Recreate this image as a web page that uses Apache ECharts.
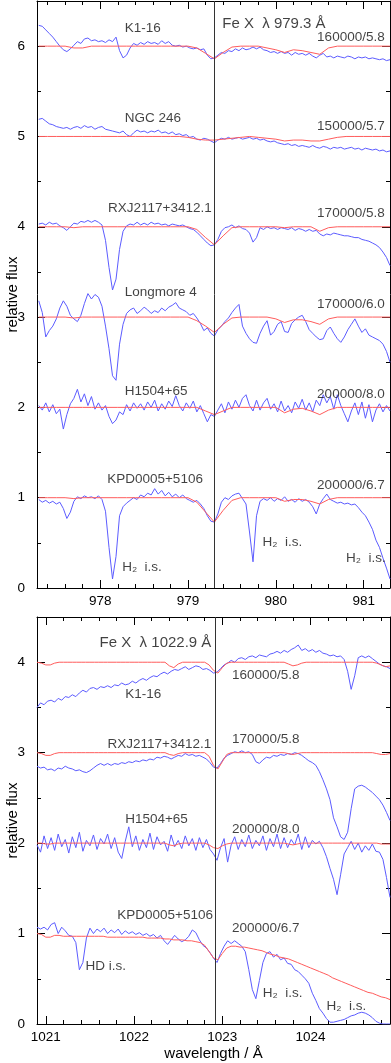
<!DOCTYPE html>
<html>
<head>
<meta charset="utf-8">
<title>Fe X 979.3 / 1022.9</title>
<script src="https://cdn.jsdelivr.net/npm/echarts@6.0.0/dist/echarts.min.js"></script>
<style>
  html, body { margin: 0; padding: 0; background: #fff; }
  #chart { width: 391px; height: 1063px; }
</style>
</head>
<body>
<div id="chart"></div>
<script>
// wavelength sampling of the arrays below (Angstrom)
const OBS_STEP = 0.04;
const TOP_OBS_START = 977.3, BOT_OBS_START = 1020.9;
const TOP_MOD_START = 977.3, TOP_MOD_STEP = 0.1;
const BOT_MOD_START = 1020.9, BOT_MOD_STEP = 0.05;

// ticks
const TOP_X_MAJOR = [978, 979, 980, 981];
const TOP_X_MINOR = [977.4, 977.6, 977.8, 978.2, 978.4, 978.6, 978.8, 979.2, 979.4, 979.6, 979.8, 980.2, 980.4, 980.6, 980.8, 981.2];
const BOT_X_MAJOR = [1021, 1022, 1023, 1024];
const BOT_X_MINOR = [1021.2, 1021.4, 1021.6, 1021.8, 1022.2, 1022.4, 1022.6, 1022.8, 1023.2, 1023.4, 1023.6, 1023.8, 1024.2, 1024.4, 1024.6, 1024.8];
const TOP_Y_MAJOR = [0, 1, 2, 3, 4, 5, 6];
const TOP_Y_MINOR = [0.5, 1.5, 2.5, 3.5, 4.5, 5.5];
const BOT_Y_MAJOR = [0, 1, 2, 3, 4];
const BOT_Y_MINOR = [0.5, 1.5, 2.5, 3.5];

// Fe X line positions
const TOP_LINE = 979.3;
const BOT_LINE = 1022.92;

// ---- upper panel, observed (blue), normalised + offset ----
const topK116Obs = [6.23,6.22,6.18,6.14,6.10,6.05,6.00,5.96,5.94,5.97,
  6.01,6.05,6.03,6.08,6.09,6.06,6.07,6.05,6.06,6.04,
  6.07,6.05,6.10,5.95,5.87,5.90,5.98,6.03,6.01,6.04,
  6.02,6.05,6.03,6.04,6.02,6.06,6.03,6.05,6.01,6.00,
  6.01,5.99,6.00,5.98,5.97,5.98,5.96,5.97,5.90,5.86,
  5.87,5.90,5.93,5.92,5.95,5.94,5.97,5.95,5.98,5.96,
  5.97,5.99,5.97,5.99,5.96,5.95,5.93,5.94,5.92,5.94,
  5.92,5.93,5.90,5.93,5.91,5.92,5.90,5.92,5.89,5.87,
  5.90,5.92,5.88,5.89,5.87,5.89,5.88,5.87,5.89,5.88,
  5.86,5.88,5.87,5.88,5.86,5.87,5.86,5.85,5.86,5.84,
  5.85];
const topNgc246Obs = [5.19,5.20,5.17,5.14,5.13,5.11,5.10,5.09,5.10,5.08,
  5.10,5.11,5.09,5.12,5.10,5.11,5.08,5.10,5.11,5.08,
  5.07,5.06,5.05,5.04,5.06,5.02,5.00,5.04,5.07,5.05,
  5.06,5.04,5.06,5.05,5.07,5.04,5.05,5.03,5.05,5.02,
  5.03,5.01,5.02,4.99,5.00,4.97,4.96,4.98,4.97,4.95,
  4.93,4.96,4.98,4.97,4.99,4.97,4.98,4.99,4.97,4.98,
  4.99,4.97,4.98,4.96,4.97,4.95,4.94,4.95,4.93,4.92,
  4.91,4.92,4.90,4.91,4.89,4.90,4.89,4.88,4.90,4.88,
  4.87,4.89,4.88,4.86,4.88,4.87,4.88,4.86,4.87,4.88,
  4.86,4.87,4.85,4.87,4.86,4.85,4.86,4.84,4.85,4.83,
  4.84];
const topRxjObs = [4.03,4.04,4.02,4.05,4.03,4.04,4.01,3.99,3.96,4.00,
  4.04,4.03,4.06,4.05,4.07,4.05,4.07,4.05,4.02,3.85,
  3.55,3.30,3.42,3.75,3.95,4.01,4.03,4.02,4.05,4.02,
  4.04,4.02,4.05,4.03,4.04,4.02,4.03,4.01,4.03,4.02,
  4.01,4.02,4.00,3.98,3.97,3.94,3.90,3.86,3.82,3.79,
  3.80,3.86,3.95,3.99,4.00,4.02,3.99,4.01,3.98,3.97,
  3.93,3.83,3.88,3.99,3.97,4.00,3.98,3.99,3.97,3.99,
  3.98,3.97,3.99,3.96,3.98,3.97,3.95,3.97,3.95,3.96,
  3.92,3.90,3.92,3.91,3.93,3.92,3.91,3.90,3.90,3.89,
  3.88,3.88,3.86,3.85,3.84,3.82,3.80,3.77,3.72,3.66,
  3.57];
const topLm4Obs = [3.18,3.05,2.78,2.85,2.90,2.98,3.10,3.18,3.12,3.02,
  2.98,2.95,3.02,3.15,3.26,3.20,3.25,3.22,3.12,2.90,
  2.65,2.35,2.30,2.70,2.92,3.04,3.08,3.10,3.04,3.07,
  3.11,3.08,3.04,3.07,3.05,3.10,3.07,3.11,3.13,3.16,
  3.10,3.08,3.06,3.02,3.04,2.99,2.93,2.85,2.88,2.82,
  2.79,2.86,2.90,2.95,2.99,3.05,3.10,3.14,2.90,2.82,
  2.76,2.72,2.71,2.82,2.90,2.96,2.80,2.84,2.92,2.95,
  2.84,2.83,2.93,2.97,3.00,3.02,2.95,2.86,2.82,2.78,
  2.75,2.76,2.85,2.89,2.82,2.76,2.72,2.78,2.86,2.92,
  2.98,2.90,2.83,2.87,2.80,2.78,2.76,2.74,2.70,2.62,
  2.50];
const topH1504Obs = [2.02,1.97,2.05,1.95,2.03,1.93,1.98,1.76,1.92,2.04,
  2.10,2.20,2.06,2.15,2.02,2.12,1.98,2.05,1.97,2.02,
  1.90,1.82,1.86,1.95,1.92,2.03,1.96,2.05,1.99,2.04,
  1.97,2.06,2.00,2.08,1.96,2.04,1.98,2.07,2.01,2.13,
  2.02,1.96,2.05,1.99,2.07,1.95,2.02,1.93,1.84,1.92,
  1.90,1.97,2.04,1.94,2.06,1.98,2.08,2.00,2.10,2.14,
  2.02,1.96,2.08,1.97,2.05,2.10,1.98,2.04,1.95,2.07,
  1.96,2.02,1.94,2.06,1.99,2.09,1.97,2.05,1.95,2.08,
  2.02,2.14,2.05,2.12,1.98,2.14,2.02,1.93,1.84,1.96,
  2.05,1.92,2.06,1.88,2.03,1.84,1.97,2.04,1.95,2.02,
  1.96];
const topKpdObs = [0.98,0.95,0.97,0.94,0.96,0.93,0.95,0.88,0.77,0.84,
  0.96,1.01,0.99,1.02,1.00,1.01,0.99,1.02,0.98,0.85,
  0.45,0.10,0.35,0.80,0.90,0.94,0.97,1.00,0.98,1.03,
  1.01,1.05,1.03,1.10,1.04,1.08,1.02,1.06,1.01,1.04,
  1.00,1.03,0.99,0.97,0.95,0.97,0.93,0.88,0.80,0.74,
  0.73,0.82,0.95,1.00,0.98,1.02,1.04,1.05,0.99,0.93,
  0.62,0.29,0.80,0.96,0.99,0.97,1.00,0.96,0.99,0.97,
  1.01,0.96,0.98,0.95,0.99,0.96,0.98,0.95,0.90,0.82,
  0.93,0.99,1.04,0.98,0.96,0.94,0.95,0.93,0.94,0.92,
  0.93,0.89,0.84,0.80,0.73,0.65,0.53,0.45,0.33,0.22,
  0.10];

// ---- upper panel, models (red) ----
const topK116Mod = [6,6,6,6,5.98,5.98,6,6,6,6,6,6,6,6,6,6,6,6,5.98,5.92,5.86,5.93,5.99,6,6,6,5.98,5.96,5.93,5.96,5.95,5.93,5.91,5.98,6,6,6,6,6,6,6];
const topNgc246Mod = [5,5,5,5,5,5,5,5,5,5,5,5,5,5,5,5,5,4.99,4.97,4.96,4.96,4.97,4.98,4.99,5,4.99,4.98,4.97,4.95,4.96,4.96,4.95,4.95,4.97,4.99,5,5,5,5,5,5];
const topRxjMod = [4,4,4,4,3.99,4,4,4,4,4,4,4,4,4,4,4,4,4,3.97,3.88,3.80,3.90,3.99,4,4,4,4,4,3.99,4,4,4,3.95,3.99,4,4,4,4,4,4,4];
const topLm4Mod = [3,3,3,3,2.99,3,3,3,3,3,3,3,3,3,3,3,3,3,2.96,2.90,2.83,2.92,2.99,3,3,3,3,2.98,2.94,2.97,2.97,2.95,2.92,2.98,3,3,3,3,3,3,3];
const topH1504Mod = [2,2,2,2,2,2,2,2,2,2,2,2,2,2,2,2,2,2,2,1.96,1.92,1.96,2,2,2,2,2,2,1.94,1.98,1.99,1.96,1.92,1.97,2,2,2,2,2,2,2];
const topKpdMod = [1,1,1,1,0.99,1,1,1,1,1,1,1,1,1,1,1,1,1,0.95,0.84,0.73,0.86,0.97,1,1,1,1,1,0.96,0.98,0.98,0.96,0.93,0.98,1,1,1,1,1,1,1];

// ---- lower panel, observed (blue) ----
const botK116Obs = [3.50,3.55,3.53,3.57,3.58,3.56,3.60,3.58,3.62,3.61,
  3.64,3.62,3.66,3.69,3.67,3.71,3.72,3.70,3.73,3.72,
  3.74,3.72,3.75,3.74,3.77,3.75,3.76,3.79,3.77,3.80,
  3.82,3.80,3.83,3.85,3.84,3.87,3.89,3.87,3.90,3.92,
  3.91,3.93,3.95,3.92,3.94,3.96,3.95,3.92,3.93,3.91,
  3.88,3.89,3.93,3.97,3.99,4.02,4.00,4.04,4.05,4.03,
  4.06,4.07,4.05,4.08,4.07,4.06,4.09,4.10,4.12,4.10,
  4.13,4.11,4.14,4.16,4.19,4.13,4.15,4.12,4.14,4.11,
  4.13,4.10,4.09,4.07,4.08,4.06,4.07,4.03,3.90,3.70,
  3.85,4.05,4.07,4.05,4.07,4.04,4.01,3.98,3.96,3.95,
  3.93];
const botRxjObs = [2.85,2.83,2.84,2.81,2.82,2.80,2.83,2.82,2.85,2.83,
  2.82,2.80,2.81,2.79,2.78,2.80,2.83,2.86,2.88,2.86,
  2.88,2.86,2.88,2.87,2.89,2.88,2.90,2.89,2.91,2.90,
  2.92,2.91,2.93,2.92,2.95,2.94,2.96,2.95,2.93,2.95,
  2.97,2.96,2.99,2.97,2.98,2.96,2.97,2.95,2.93,2.89,
  2.84,2.83,2.88,2.94,2.97,2.99,3.01,3.00,3.02,3.00,
  3.01,2.98,2.90,2.88,2.92,2.95,2.94,2.97,2.96,2.98,
  2.97,2.99,2.98,3.00,2.99,2.97,2.94,2.91,2.89,2.86,
  2.79,2.70,2.60,2.48,2.28,2.18,2.07,2.04,2.12,2.38,
  2.60,2.63,2.64,2.62,2.59,2.56,2.52,2.48,2.42,2.34,
  2.25];
const botH1504Obs = [1.98,1.90,2.08,1.94,2.06,1.92,2.10,1.96,2.04,1.89,
  2.07,1.95,2.12,1.91,2.03,1.97,2.09,1.93,2.05,1.99,
  2.10,1.94,2.06,1.90,1.83,2.02,2.18,1.96,2.08,1.92,
  2.04,1.95,2.11,1.93,2.07,1.98,2.02,1.91,2.09,1.96,
  2.03,1.94,2.08,1.97,2.05,1.92,2.06,1.95,2.04,1.93,
  1.88,1.81,1.95,2.05,1.79,1.98,2.07,1.93,2.04,1.96,
  2.09,1.94,2.03,1.97,2.08,1.92,2.05,1.96,2.10,1.94,
  2.06,1.95,2.04,1.98,2.10,1.93,2.07,1.95,2.03,1.99,
  2.02,1.95,1.85,1.72,1.60,1.43,1.65,1.88,1.95,2.02,
  1.93,2.00,1.90,1.97,1.92,1.99,1.91,1.90,1.82,1.62,
  1.40];
const botKpdObs = [1.07,1.05,1.07,1.04,1.10,1.12,1.00,1.07,1.03,0.98,
  0.97,0.90,0.60,0.68,0.95,1.06,1.00,1.05,1.02,1.06,
  1.00,1.04,1.01,1.05,0.99,1.03,1.00,1.02,0.99,1.01,
  0.98,1.00,0.97,0.99,0.95,0.98,0.92,0.88,0.93,0.98,
  0.94,0.91,0.93,0.97,1.04,1.01,0.93,0.87,0.84,0.79,
  0.73,0.68,0.78,0.86,0.92,0.89,0.92,0.89,0.86,0.80,
  0.60,0.38,0.28,0.48,0.68,0.78,0.80,0.74,0.77,0.71,
  0.73,0.67,0.66,0.60,0.58,0.54,0.50,0.45,0.34,0.26,
  0.17,0.12,0.06,0.02,0.02,0.03,0.04,0.05,0.07,0.09,
  0.10,0.12,0.13,0.12,0.10,0.07,0.03,0.01,0,0,
  0];

// ---- lower panel, models (red) ----
const botK116Mod = [4,3.99,3.97,3.97,3.99,
  4,4,4,4,4,4,4,4,4,4,4,4,4,4,4,4,4,4,4,4,4,4,4,4,4,
  3.96,3.94,3.98,4,4,4,4,4,4,
  3.97,3.91,3.88,3.94,3.99,
  4,4,4,4,4,4,4,4,4,4,4,4,4,
  3.98,3.96,3.97,3.99,
  4,4,4,4,4,4,4,4,4,4,4,4,4,4,4,4,
  3.99,3.97,3.95,3.96];
const botRxjMod = [3,2.99,2.97,2.97,2.99,
  3,3,3,3,3,3,3,3,3,3,3,3,3,3,3,3,3,3,3,3,3,3,3,3,3,
  2.98,2.97,2.99,3,3,3,3,3,3,
  2.96,2.86,2.82,2.90,2.98,
  3,3,3,3,3,3,3,3,3,3,3,3,3,
  2.99,2.98,2.99,3,
  3,3,3,3,3,3,3,3,3,3,3,3,3,3,3,3,
  2.99,2.98,2.98,2.99];
const botH1504Mod = [2,2,1.99,1.99,2,
  2,2,2,2,2,2,2,2,2,2,2,2,2,2,2,2,2,2,2,2,2,2,2,2,2,
  1.98,1.97,1.99,2,2,2,2,2,2,
  1.98,1.95,1.94,1.97,1.99,
  2,2,2,2,2,2,2,2,2,2,2,2,2,
  1.99,1.98,1.99,2,
  2,2,2,2,2,2,2,2,2,2,2,2,2,2,2,2,
  2,1.99,1.99,1.99];
const botKpdMod = [1.00,0.99,0.96,0.96,0.98,0.98,
  0.97,0.97,0.97,0.97,0.97,0.97,0.97,0.97,
  0.97,0.97,0.96,0.96,0.96,0.96,0.96,0.96,
  0.96,0.96,0.96,0.95,0.95,0.95,0.95,0.94,
  0.94,0.93,0.93,0.93,0.92,0.92,0.91,0.90,0.87,0.80,
  0.73,0.71,0.78,0.84,0.86,0.86,0.85,0.85,0.84,0.83,
  0.82,0.81,0.79,0.77,0.76,0.74,0.73,0.72,0.70,0.68,
  0.66,0.64,0.62,0.60,0.58,0.56,0.54,0.51,0.49,0.47,
  0.45,0.43,0.41,0.39,0.37,0.35,0.34,0.32,0.30,0.29,
  0.27];

// annotations: text, wavelength, flux, align, font size
const topNotes = [
  ['K1-16', 978.28, 6.20, 'left'],
  ['Fe X  λ 979.3 Å', 979.39, 6.25, 'left', 15],
  ['160000/5.8', 981.24, 6.10, 'right'],
  ['NGC 246', 978.28, 5.20, 'left'],
  ['150000/5.7', 981.24, 5.11, 'right'],
  ['RXJ2117+3412.1', 978.09, 4.20, 'left'],
  ['170000/5.8', 981.24, 4.15, 'right'],
  ['Longmore 4', 978.28, 3.27, 'left'],
  ['170000/6.0', 981.24, 3.14, 'right'],
  ['H1504+65', 978.28, 2.18, 'left'],
  ['200000/8.0', 981.24, 2.15, 'right'],
  ['KPD0005+5106', 978.08, 1.20, 'left'],
  ['200000/6.7', 981.24, 1.14, 'right'],
  ['H₂  i.s.', 978.25, 0.23, 'left'],
  ['H₂  i.s.', 979.85, 0.51, 'left'],
  ['H₂  i.s.', 980.80, 0.33, 'left']
];
const botNotes = [
  ['Fe X  λ 1022.9 Å', 1021.61, 4.21, 'left', 15],
  ['K1-16', 1021.90, 3.65, 'left'],
  ['160000/5.8', 1023.11, 3.85, 'left'],
  ['RXJ2117+3412.1', 1021.70, 3.09, 'left'],
  ['170000/5.8', 1023.11, 3.15, 'left'],
  ['H1504+65', 1021.90, 2.26, 'left'],
  ['200000/8.0', 1023.11, 2.15, 'left'],
  ['KPD0005+5106', 1021.81, 1.20, 'left'],
  ['200000/6.7', 1023.11, 1.06, 'left'],
  ['HD i.s.', 1021.45, 0.64, 'left'],
  ['H₂  i.s.', 1023.46, 0.34, 'left'],
  ['H₂  i.s.', 1024.18, 0.19, 'left']
];

const FONT = '"Liberation Sans", Arial, Helvetica, sans-serif';
const BLUE = '#5c5cff';
const RED = '#ff5c5c';
const AX = '#000';

function spectrum(start, step, vals) {
  return vals.map(function (v, i) {
    return [Math.round((start + i * step) * 1000) / 1000, v];
  });
}

function plain(v) { return String(v); }

// 4 x axes per grid: bottom major/minor, top major/minor
function xAxisSet(grid, min, max, major, minor, name) {
  const base = { type: 'value', gridIndex: grid, min: min, max: max, splitLine: { show: false } };
  const line = { onZero: false, lineStyle: { color: AX, width: 1 } };
  const noLine = { show: false, onZero: false };
  const tick = function (vals, len) {
    return { inside: true, length: len, customValues: vals, lineStyle: { color: AX, width: 1 } };
  };
  const main = Object.assign({}, base, {
    position: 'bottom', axisLine: line, axisTick: tick(major, 8),
    axisLabel: { customValues: major, formatter: plain, color: '#000', fontSize: 13.5, margin: 6, fontFamily: FONT }
  });
  if (name) {
    main.name = name;
    main.nameLocation = 'middle';
    main.nameGap = 22;
    main.nameMoveOverlap = false;
    main.nameTextStyle = { color: '#000', fontSize: 15, fontFamily: FONT };
  }
  return [
    main,
    Object.assign({}, base, { position: 'bottom', axisLine: noLine, axisTick: tick(minor, 4), axisLabel: { show: false } }),
    Object.assign({}, base, { position: 'top', axisLine: line, axisTick: tick(major, 8), axisLabel: { show: false } }),
    Object.assign({}, base, { position: 'top', axisLine: noLine, axisTick: tick(minor, 4), axisLabel: { show: false } })
  ];
}

function yAxisSet(grid, min, max, major, minor) {
  const base = { type: 'value', gridIndex: grid, min: min, max: max, splitLine: { show: false } };
  const line = { onZero: false, lineStyle: { color: AX, width: 1 } };
  const noLine = { show: false, onZero: false };
  const tick = function (vals, len) {
    return { inside: true, length: len, customValues: vals, lineStyle: { color: AX, width: 1 } };
  };
  return [
    Object.assign({}, base, {
      position: 'left', axisLine: line, axisTick: tick(major, 8),
      axisLabel: { customValues: major, formatter: plain, color: '#000', fontSize: 13.5, margin: 12, fontFamily: FONT },
      name: 'relative flux', nameLocation: 'middle', nameGap: 17, nameRotate: 90, nameMoveOverlap: false,
      nameTextStyle: { color: '#000', fontSize: 15, fontFamily: FONT }
    }),
    Object.assign({}, base, { position: 'left', axisLine: noLine, axisTick: tick(minor, 4), axisLabel: { show: false } }),
    Object.assign({}, base, { position: 'right', axisLine: line, axisTick: tick(major, 8), axisLabel: { show: false } }),
    Object.assign({}, base, { position: 'right', axisLine: noLine, axisTick: tick(minor, 4), axisLabel: { show: false } })
  ];
}

function lineSeries(grid, data, color, z) {
  return {
    type: 'line', xAxisIndex: grid * 4, yAxisIndex: grid * 4,
    data: data, symbol: 'none', silent: true, z: z,
    lineStyle: { color: color, width: 1 }, itemStyle: { color: color }
  };
}

function feLine(grid, x) {
  return {
    type: 'line', xAxisIndex: grid * 4, yAxisIndex: grid * 4, data: [], silent: true, z: 1,
    markLine: {
      silent: true, symbol: ['none', 'none'], label: { show: false },
      lineStyle: { color: '#333', width: 1, type: 'solid' },
      data: [{ xAxis: x }]
    }
  };
}

function notesSeries(grid, notes) {
  return {
    type: 'scatter', xAxisIndex: grid * 4, yAxisIndex: grid * 4,
    symbolSize: 0.1, silent: true, z: 10,
    itemStyle: { color: 'transparent' },
    data: notes.map(function (n) {
      return {
        value: [n[1], n[2]],
        label: {
          show: true, formatter: n[0], position: [0, 0],
          align: n[3], verticalAlign: 'middle',
          fontSize: n[4] || 13.5, color: '#111', fontFamily: FONT
        }
      };
    })
  };
}

const series = [
  feLine(0, TOP_LINE),
  lineSeries(0, spectrum(TOP_OBS_START, OBS_STEP, topK116Obs), BLUE, 2),
  lineSeries(0, spectrum(TOP_OBS_START, OBS_STEP, topNgc246Obs), BLUE, 2),
  lineSeries(0, spectrum(TOP_OBS_START, OBS_STEP, topRxjObs), BLUE, 2),
  lineSeries(0, spectrum(TOP_OBS_START, OBS_STEP, topLm4Obs), BLUE, 2),
  lineSeries(0, spectrum(TOP_OBS_START, OBS_STEP, topH1504Obs), BLUE, 2),
  lineSeries(0, spectrum(TOP_OBS_START, OBS_STEP, topKpdObs), BLUE, 2),
  lineSeries(0, spectrum(TOP_MOD_START, TOP_MOD_STEP, topK116Mod), RED, 3),
  lineSeries(0, spectrum(TOP_MOD_START, TOP_MOD_STEP, topNgc246Mod), RED, 3),
  lineSeries(0, spectrum(TOP_MOD_START, TOP_MOD_STEP, topRxjMod), RED, 3),
  lineSeries(0, spectrum(TOP_MOD_START, TOP_MOD_STEP, topLm4Mod), RED, 3),
  lineSeries(0, spectrum(TOP_MOD_START, TOP_MOD_STEP, topH1504Mod), RED, 3),
  lineSeries(0, spectrum(TOP_MOD_START, TOP_MOD_STEP, topKpdMod), RED, 3),
  notesSeries(0, topNotes),

  feLine(1, BOT_LINE),
  lineSeries(1, spectrum(BOT_OBS_START, OBS_STEP, botK116Obs), BLUE, 2),
  lineSeries(1, spectrum(BOT_OBS_START, OBS_STEP, botRxjObs), BLUE, 2),
  lineSeries(1, spectrum(BOT_OBS_START, OBS_STEP, botH1504Obs), BLUE, 2),
  lineSeries(1, spectrum(BOT_OBS_START, OBS_STEP, botKpdObs), BLUE, 2),
  lineSeries(1, spectrum(BOT_MOD_START, BOT_MOD_STEP, botK116Mod), RED, 3),
  lineSeries(1, spectrum(BOT_MOD_START, BOT_MOD_STEP, botRxjMod), RED, 3),
  lineSeries(1, spectrum(BOT_MOD_START, BOT_MOD_STEP, botH1504Mod), RED, 3),
  lineSeries(1, spectrum(BOT_MOD_START, BOT_MOD_STEP, botKpdMod), RED, 3),
  notesSeries(1, botNotes)
];

const chart = echarts.init(document.getElementById('chart'), null, { renderer: 'canvas' });
chart.setOption({
  animation: false,
  backgroundColor: '#fff',
  textStyle: { fontFamily: FONT },
  grid: [
    { left: 37, top: 1, width: 353, height: 587, outerBoundsMode: 'none' },
    { left: 37, top: 617, width: 353, height: 407, outerBoundsMode: 'none' }
  ],
  xAxis: xAxisSet(0, 977.28, 981.3, TOP_X_MAJOR, TOP_X_MINOR, '')
    .concat(xAxisSet(1, 1020.9, 1024.9, BOT_X_MAJOR, BOT_X_MINOR, 'wavelength / Å')),
  yAxis: yAxisSet(0, 0, 6.5, TOP_Y_MAJOR, TOP_Y_MINOR)
    .concat(yAxisSet(1, 0, 4.5, BOT_Y_MAJOR, BOT_Y_MINOR)),
  series: series
});
</script>
</body>
</html>
